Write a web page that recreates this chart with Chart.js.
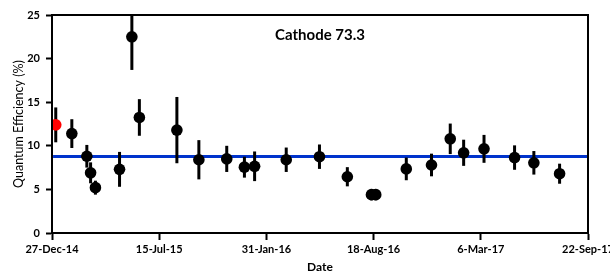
<!DOCTYPE html>
<html><head><meta charset="utf-8">
<script src="https://cdn.jsdelivr.net/npm/chart.js@4.4.0/dist/chart.umd.min.js"></script>
<style>html,body{margin:0;padding:0;background:#fff}</style>
</head><body>
<canvas id="c" width="610" height="273"></canvas>
<script>
const START = '2014-12-27';
const dates = ['2015-01-03','2015-02-02','2015-03-02','2015-03-09','2015-03-18','2015-05-02','2015-05-25','2015-06-08','2015-08-17','2015-09-27','2015-11-18','2015-12-21','2016-01-09','2016-03-08','2016-05-09','2016-06-30','2016-08-14','2016-08-22','2016-10-18','2016-12-04','2017-01-08','2017-02-02','2017-03-12','2017-05-08','2017-06-13','2017-07-31'];
const qe = [12.4,11.4,8.8,6.9,5.2,7.3,22.5,13.25,11.8,8.4,8.5,7.55,7.65,8.4,8.75,6.45,4.4,4.4,7.35,7.8,10.8,9.2,9.65,8.65,8.05,6.8];
const qeErr = [2.0,1.65,1.3,1.2,0.8,2.0,3.8,2.1,3.8,2.25,1.5,1.2,1.7,1.4,1.4,1.1,0.65,0.65,1.3,1.3,1.75,1.5,1.6,1.4,1.35,1.15];
const meanQE = 8.78;
const meanLineDates = ['2014-12-29','2017-09-22'];
const tickLabels = ['27-Dec-14','15-Jul-15','31-Jan-16','18-Aug-16','6-Mar-17','22-Sep-17'];
const TICK_STEP = 200;
const TITLE = 'Cathode 73.3';

const toDay = d => (Date.parse(d) - Date.parse(START)) / 86400000;
const days = dates.map(toDay);
const points = days.map((d, i) => ({x: d, y: qe[i]}));
const meanLine = meanLineDates.map(d => ({x: toDay(d), y: meanQE}));

const FONT = 'Lato, "Open Sans", sans-serif';

const errorBars = {
  id: 'errorBars',
  beforeDatasetDraw(chart, args) {
    if (args.index !== 0) return;
    const {ctx, chartArea: a, scales: {x, y}} = chart;
    ctx.save();
    ctx.beginPath();
    ctx.rect(a.left, a.top, a.right - a.left, a.bottom - a.top);
    ctx.clip();
    ctx.strokeStyle = '#000';
    ctx.lineWidth = 3;
    days.forEach((d, i) => {
      const px = x.getPixelForValue(d);
      ctx.beginPath();
      ctx.moveTo(px, y.getPixelForValue(qe[i] - qeErr[i]));
      ctx.lineTo(px, y.getPixelForValue(qe[i] + qeErr[i]));
      ctx.stroke();
    });
    ctx.restore();
  }
};

const frame = {
  id: 'frame',
  afterDraw(chart) {
    const {ctx, chartArea: a} = chart;
    ctx.save();
    ctx.strokeStyle = '#000';
    ctx.lineWidth = 2;
    ctx.strokeRect(a.left, a.top, a.right - a.left, a.bottom - a.top);
    ctx.fillStyle = '#000';
    ctx.font = 'bold 15px ' + FONT;
    ctx.textAlign = 'center';
    ctx.textBaseline = 'middle';
    ctx.fillText(TITLE, (a.left + a.right) / 2, a.top + 20);
    ctx.restore();
  }
};

new Chart(document.getElementById('c'), {
  type: 'scatter',
  data: {
    datasets: [
      {
        data: points,
        pointRadius: 5.8,
        pointHoverRadius: 5.8,
        pointBorderWidth: 0,
        pointBackgroundColor: qe.map((v, i) => i === 0 ? '#ff0000' : '#000000'),
        pointBorderColor: qe.map((v, i) => i === 0 ? '#ff0000' : '#000000'),
        showLine: false
      },
      {
        data: meanLine,
        showLine: true,
        borderColor: '#0033cc',
        borderWidth: 3,
        pointRadius: 0,
        fill: false
      }
    ]
  },
  options: {
    responsive: false,
    animation: false,
    events: [],
    layout: {padding: {left: 0, right: 22, top: 15, bottom: 0}},
    plugins: {legend: {display: false}, tooltip: {enabled: false}},
    scales: {
      x: {
        type: 'linear',
        min: 0,
        max: TICK_STEP * (tickLabels.length - 1),
        afterFit(s) { s.paddingLeft = 0; s.paddingRight = 0; s.height = 40; },
        ticks: {
          stepSize: TICK_STEP,
          autoSkip: false,
          maxRotation: 0,
          padding: 3,
          color: '#000',
          font: {family: FONT, size: 11, weight: 'bold'},
          callback: v => tickLabels[Math.round(v / TICK_STEP)]
        },
        grid: {display: true, drawOnChartArea: false, tickLength: 7, tickWidth: 2, tickColor: '#000'},
        border: {display: true, color: '#000', width: 2},
        title: {display: true, text: 'Date', color: '#000', padding: {top: 0, bottom: 0},
          font: {family: FONT, size: 12, weight: 'bold', lineHeight: 1}}
      },
      y: {
        min: 0,
        max: 25,
        afterFit(s) { s.paddingTop = 0; s.paddingBottom = 0; s.width = 52; },
        ticks: {
          stepSize: 5,
          padding: 6,
          color: '#000',
          font: {family: FONT, size: 11, weight: 'bold'}
        },
        grid: {display: true, drawOnChartArea: false, tickLength: 6, tickWidth: 2, tickColor: '#000'},
        border: {display: true, color: '#000', width: 2},
        title: {display: true, text: 'Quantum Efficiency (%)', color: '#000', padding: {top: 11, bottom: 0},
          font: {family: FONT, size: 12.5, weight: 'normal', lineHeight: 1.2}}
      }
    }
  },
  plugins: [errorBars, frame]
});
</script>
</body></html>
